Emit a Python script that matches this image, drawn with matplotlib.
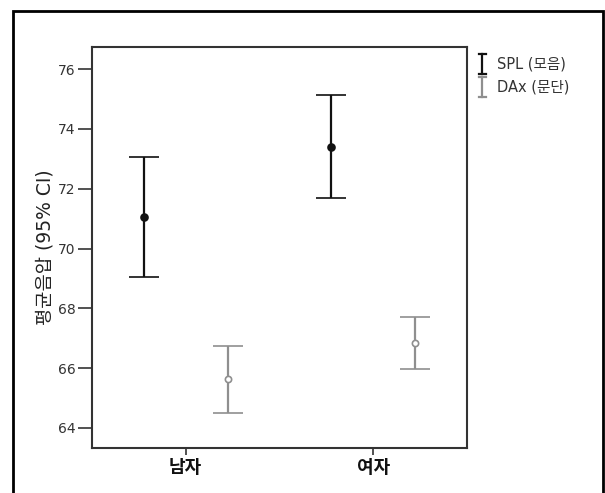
import matplotlib
matplotlib.use('Agg')
import matplotlib.pyplot as plt
import numpy as np
from matplotlib.patches import Rectangle
from matplotlib.lines import Line2D
from matplotlib.legend_handler import HandlerBase

# wide latin glyphs first, hangul falls through to the CJK family
plt.rcParams['font.family'] = ['DejaVu Sans', 'Noto Sans CJK KR']

# data
groups = ['남자', '여자']
series = ['SPL (모음)', 'DAx (문단)']
spl_mean = [71.04, 73.39]
spl_low = [69.06, 71.68]
spl_high = [73.05, 75.12]
dax_mean = [65.63, 66.85]
dax_low = [64.51, 65.96]
dax_high = [66.73, 67.71]

SPL_COL = '#111111'
DAX_COL = '#8f8f8f'


class HandlerIBar(HandlerBase):
    # vertical error bar glyph for the legend
    def create_artists(self, legend, orig_handle, xdescent, ydescent,
                       width, height, fontsize, trans):
        c = orig_handle.get_color()
        lw = orig_handle.get_linewidth()
        cx = width / 2 - xdescent
        y0 = -ydescent - height * 0.45
        y1 = height * 1.45 - ydescent
        hw = width * 0.25
        arts = [Line2D([cx, cx], [y0, y1], color=c, lw=lw),
                Line2D([cx - hw, cx + hw], [y0, y0], color=c, lw=lw),
                Line2D([cx - hw, cx + hw], [y1, y1], color=c, lw=lw)]
        for a in arts:
            a.set_transform(trans)
        return arts


fig = plt.figure(figsize=(6.05, 4.93), dpi=100)
ax = fig.add_axes([92 / 605, 1 - 448 / 493, 375 / 605, 401 / 493])

x = np.arange(len(groups))
off = 0.225

def draw(xs, mean, low, high, col, mfc):
    m = np.array(mean)
    err = [m - np.array(low), np.array(high) - m]
    ax.errorbar(xs, m, yerr=err, fmt='o', color=col, ecolor=col,
                mfc=mfc, mec=col, ms=5 if mfc != 'white' else 4.5,
                elinewidth=1.6, capsize=11, capthick=1.6, mew=1.2)

draw(x - off, spl_mean, spl_low, spl_high, SPL_COL, SPL_COL)
draw(x + off, dax_mean, dax_low, dax_high, DAX_COL, 'white')

ax.set_xlim(-0.5, 1.5)
ax.set_ylim(63.33, 76.74)
ax.set_yticks(np.arange(64, 77, 2))
ax.set_xticks(x)
ax.set_xticklabels(groups, fontsize=13, fontweight='bold')
ax.tick_params(axis='y', direction='out', length=10, width=1.2,
               labelsize=10, colors='#333333', labelcolor='#333333', pad=2)
ax.tick_params(axis='x', direction='out', length=5, width=1.2,
               colors='#333333', labelcolor='#111111', pad=3)
for s in ax.spines.values():
    s.set_linewidth(1.5)
    s.set_color('#333333')
ax.set_ylabel('평균음압 (95% CI)', fontsize=13.5, color='#222222', labelpad=2)

handles = [Line2D([], [], color=SPL_COL, lw=1.6),
           Line2D([], [], color=DAX_COL, lw=1.6)]
fig.legend(handles, series, loc='upper left', bbox_to_anchor=(472 / 605, 1 - 54 / 493),
           frameon=False, fontsize=10.5, handler_map={Line2D: HandlerIBar()},
           handlelength=1.0, handletextpad=0.5, labelspacing=0.55,
           borderaxespad=0, borderpad=0.2, labelcolor='#333333')

# outer frame
fig.patches.append(Rectangle((13 / 605, -0.05), 590 / 605, 1.05 - 11 / 493,
                             transform=fig.transFigure, fill=False,
                             lw=2, ec='black', clip_on=False))

fig.savefig('out.png', dpi=100)
